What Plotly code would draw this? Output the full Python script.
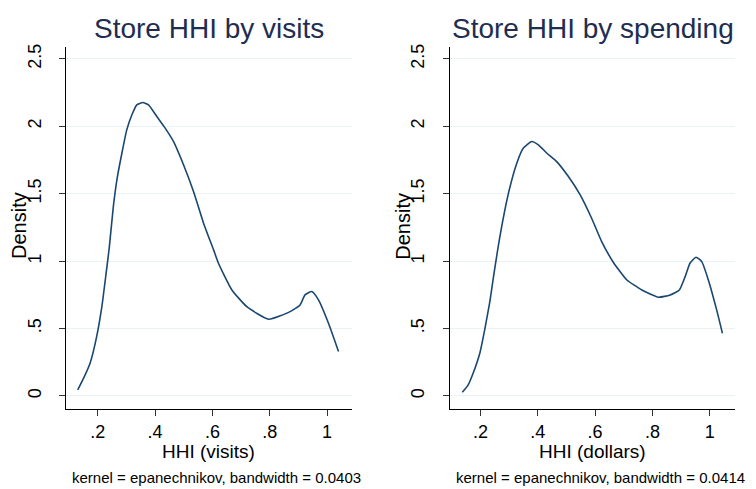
import plotly.graph_objects as go

# Data
visits_x = [0.130, 0.150, 0.173, 0.196, 0.214, 0.229, 0.240, 0.254, 0.268, 0.284, 0.301,
            0.319, 0.336, 0.357, 0.377, 0.406, 0.435, 0.464, 0.499, 0.534, 0.569, 0.604,
            0.621, 0.668, 0.720, 0.796, 0.871, 0.906, 0.923, 0.947, 0.970, 1.005, 1.040]
visits_y = [0.045, 0.130, 0.243, 0.440, 0.660, 0.910, 1.100, 1.400, 1.620, 1.800, 1.973,
            2.085, 2.159, 2.176, 2.159, 2.072, 1.986, 1.887, 1.714, 1.516, 1.281, 1.083,
            0.984, 0.786, 0.662, 0.569, 0.625, 0.675, 0.749, 0.774, 0.712, 0.539, 0.329]

spend_x = [0.137, 0.157, 0.175, 0.198, 0.215, 0.233, 0.245, 0.268, 0.298, 0.327, 0.350,
           0.379, 0.402, 0.432, 0.466, 0.507, 0.548, 0.588, 0.623, 0.664, 0.711, 0.763,
           0.821, 0.862, 0.894, 0.914, 0.931, 0.952, 0.972, 0.995, 1.024, 1.044]
spend_y = [0.027, 0.080, 0.170, 0.317, 0.490, 0.700, 0.873, 1.182, 1.504, 1.726, 1.838,
           1.887, 1.862, 1.800, 1.738, 1.627, 1.491, 1.318, 1.145, 0.990, 0.860, 0.786,
           0.732, 0.749, 0.786, 0.885, 0.984, 1.029, 0.996, 0.860, 0.638, 0.465]

x_ticks = [0.2, 0.4, 0.6, 0.8, 1.0]
x_ticktext = [".2", ".4", ".6", ".8", "1"]
y_ticks = [0, 0.5, 1, 1.5, 2, 2.5]
y_ticktext = ["0", ".5", "1", "1.5", "2", "2.5"]

titles = ["Store HHI by visits", "Store HHI by spending"]
x_titles = ["HHI (visits)", "HHI (dollars)"]
y_title = "Density"
notes = ["kernel = epanechnikov, bandwidth = 0.0403", "kernel = epanechnikov, bandwidth = 0.0414"]

# The page body adds an 8px margin; lay out in window pixels and compensate.
OFF = 8
W, H = 756 - OFF, 489 - OFF
LINE = "#1a476f"
TITLE_C = "#1e2d50"
GRID = "#eaf2f3"
FONT = "Liberation Sans, Arial, sans-serif"


def xp(px):
    return (px - OFF) / W


def yp(py):
    return 1 - (py - OFF) / H


fig = go.Figure()
fig.add_trace(go.Scatter(x=visits_x, y=visits_y, mode="lines",
                         line=dict(color=LINE, width=1.6, shape="spline", smoothing=0.5),
                         xaxis="x", yaxis="y", showlegend=False, hoverinfo="skip"))
fig.add_trace(go.Scatter(x=spend_x, y=spend_y, mode="lines",
                         line=dict(color=LINE, width=1.6, shape="spline", smoothing=0.5),
                         xaxis="x2", yaxis="y2", showlegend=False, hoverinfo="skip"))

panels = [(66, 351.7, [0.089, 1.086]), (449.7, 735.3, [0.093, 1.089])]
top_px, bot_px = 46.7, 409
ydom = [yp(bot_px), yp(top_px)]
yrange = [-0.097, 2.59]


def xaxis_cfg(dom, rng, anchor):
    return dict(domain=dom, range=rng, anchor=anchor, showline=True, linecolor="#000000", linewidth=1.2,
                ticks="outside", ticklen=6, tickcolor="#333333", tickwidth=1.2,
                tickvals=x_ticks, ticktext=x_ticktext, showgrid=False, zeroline=False,
                tickfont=dict(size=18, color="#000000", family=FONT),
                automargin=False, fixedrange=True)


def yaxis_cfg(anchor):
    return dict(domain=ydom, range=yrange, anchor=anchor, showline=True, linecolor="#000000", linewidth=1.2,
                ticks="outside", ticklen=6, tickcolor="#333333", tickwidth=1.2,
                tickvals=y_ticks, ticktext=y_ticktext, tickangle=-90, ticklabelstandoff=11,
                showgrid=True, gridcolor=GRID, gridwidth=1.2, zeroline=False,
                tickfont=dict(size=18, color="#000000", family=FONT),
                automargin=False, fixedrange=True)


(l1, r1, rng1), (l2, r2, rng2) = panels
fig.update_layout(
    width=W, height=H, margin=dict(l=0, r=0, t=0, b=0, autoexpand=False),
    paper_bgcolor="white", plot_bgcolor="white",
    font=dict(family=FONT),
    xaxis=xaxis_cfg([xp(l1), xp(r1)], rng1, "y"),
    xaxis2=xaxis_cfg([xp(l2), xp(r2)], rng2, "y2"),
    yaxis=yaxis_cfg("x"),
    yaxis2=yaxis_cfg("x2"),
)

annotations = []
for (l, r, _), t, xt in zip(panels, titles, x_titles):
    annotations.append(dict(text=t, x=xp((l + r) / 2), y=yp(28), xref="paper", yref="paper",
                            xanchor="center", yanchor="middle", showarrow=False,
                            font=dict(size=28, color=TITLE_C, family=FONT)))
    annotations.append(dict(text=xt, x=xp((l + r) / 2), y=yp(451), xref="paper", yref="paper",
                            xanchor="center", yanchor="middle", showarrow=False,
                            font=dict(size=19, color="#000000", family=FONT)))
    annotations.append(dict(text=y_title, x=xp(l - 47), y=yp(226), xref="paper", yref="paper",
                            xanchor="center", yanchor="middle", showarrow=False, textangle=-90,
                            font=dict(size=20, color="#000000", family=FONT)))
for xpx, n in zip([70, 454], notes):
    annotations.append(dict(text=n, x=xp(xpx), y=yp(477.5), xref="paper", yref="paper",
                            xanchor="left", yanchor="middle", showarrow=False,
                            font=dict(size=15, color="#000000", family=FONT)))
fig.update_layout(annotations=annotations)

fig.write_html("out.html")
